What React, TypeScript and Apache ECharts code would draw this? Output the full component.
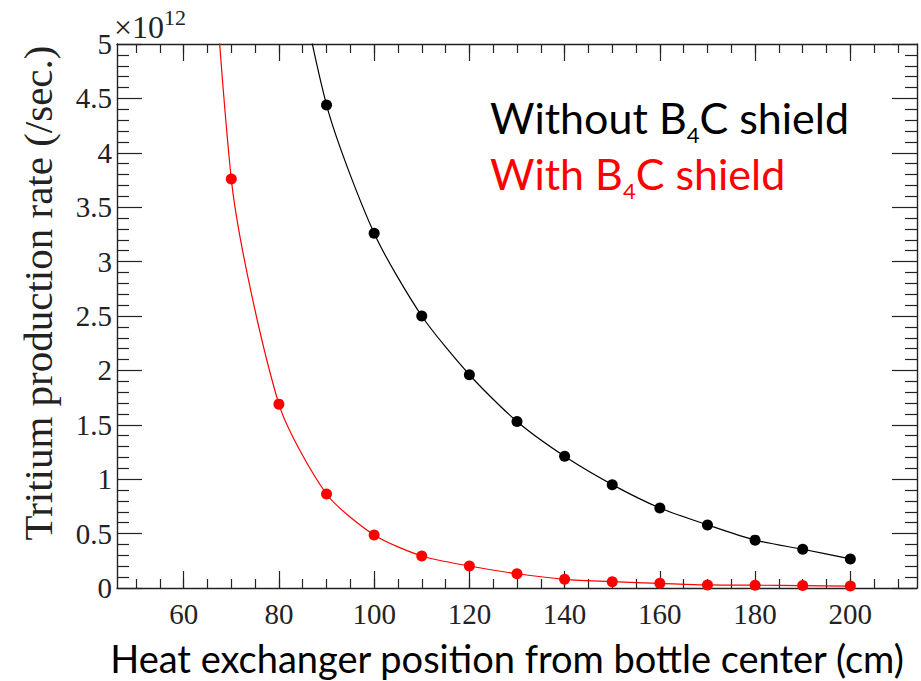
import React, { useEffect, useRef } from "react";
import * as echarts from "echarts";

// Heat exchanger position (cm)
const positions = [60, 70, 80, 90, 100, 110, 120, 130, 140, 150, 160, 170, 180, 190, 200];
// Tritium production rate (x10^12 /sec.)
const withoutShield = [15.0, 9.6, 6.6, 4.44, 3.26, 2.5, 1.96, 1.53, 1.21, 0.95, 0.735, 0.58, 0.44, 0.356, 0.267];
const withShield = [10.1, 3.76, 1.69, 0.864, 0.487, 0.294, 0.202, 0.131, 0.08, 0.058, 0.043, 0.028, 0.026, 0.022, 0.018];

const xMajorTicks = [60, 80, 100, 120, 140, 160, 180, 200];
const xMinorTicks = [50, 55, 60, 65, 70, 75, 80, 85, 90, 95, 100, 105, 110, 115, 120, 125, 130, 135, 140, 145, 150, 155, 160, 165, 170, 175, 180, 185, 190, 195, 200, 205, 210];

const X_MIN = 46;
const X_MAX = 214;
const Y_MIN = 0;
const Y_MAX = 5;

const SANS = "Lato";
const SERIF = "Liberation Serif";

function measure(text: string, size: number, family: string): number {
  const ctx = document.createElement("canvas").getContext("2d");
  if (!ctx) return text.length * size * 0.5;
  ctx.font = `${size}px "${family}"`;
  return ctx.measureText(text).width;
}

function subscriptLabel(parts: [string, string, string], x: number, midY: number, color: string, fs: number, subFs: number) {
  const w1 = measure(parts[0], fs, SANS);
  const w2 = measure(parts[1], subFs, SANS);
  const main = { fill: color, fontSize: fs, lineHeight: fs, fontFamily: SANS, verticalAlign: "middle", align: "left" };
  return [
    { type: "text", x, y: midY, style: { ...main, text: parts[0] } },
    { type: "text", x: x + w1, y: midY + 17, style: { text: parts[1], fill: color, fontSize: subFs, lineHeight: subFs - 4, fontFamily: SANS, verticalAlign: "middle", align: "left" } },
    { type: "text", x: x + w1 + w2, y: midY, style: { ...main, text: parts[2] } },
  ];
}

export default function App() {
  const ref = useRef<HTMLDivElement>(null);
  useEffect(() => {
    if (!ref.current) return;
    const chart = echarts.init(ref.current, undefined, { renderer: "svg" });
    const frameColor = "#222";
    const labelStyle = { fontFamily: SERIF, fontSize: 29, color: "#222" };
    const hidden = { show: false };
    const xAxisBase = {
      type: "value",
      min: X_MIN,
      max: X_MAX,
      gridIndex: 0,
      splitLine: hidden,
    };
    const exp10Width = measure("×10", 32, SERIF);
    const option = {
      animation: false,
      backgroundColor: "#fff",
      textStyle: { fontFamily: SERIF },
      grid: { left: 117, top: 44, width: 800, height: 544, containLabel: false },
      xAxis: [
        {
          ...xAxisBase,
          position: "bottom",
          axisLine: { show: true, onZero: false, lineStyle: { color: frameColor, width: 1.4 } },
          axisTick: { show: true, inside: true, length: 17, customValues: xMajorTicks, lineStyle: { color: frameColor, width: 1.2 } },
          axisLabel: { show: true, customValues: xMajorTicks, margin: 11, ...labelStyle },
        },
        {
          ...xAxisBase,
          position: "bottom",
          axisLine: { show: false, onZero: false },
          axisTick: { show: true, inside: true, length: 9, customValues: xMinorTicks, lineStyle: { color: frameColor, width: 1.2 } },
          axisLabel: hidden,
        },
        {
          ...xAxisBase,
          position: "top",
          axisLine: { show: true, onZero: false, lineStyle: { color: frameColor, width: 1.4 } },
          axisTick: { show: true, inside: true, length: 17, customValues: xMajorTicks, lineStyle: { color: frameColor, width: 1.2 } },
          axisLabel: hidden,
        },
        {
          ...xAxisBase,
          position: "top",
          axisLine: { show: false, onZero: false },
          axisTick: { show: true, inside: true, length: 9, customValues: xMinorTicks, lineStyle: { color: frameColor, width: 1.2 } },
          axisLabel: hidden,
        },
      ],
      yAxis: [
        {
          type: "value",
          min: Y_MIN,
          max: Y_MAX,
          interval: 0.5,
          position: "left",
          splitLine: hidden,
          axisLine: { show: true, onZero: false, lineStyle: { color: frameColor, width: 1.4 } },
          axisTick: { show: true, inside: true, length: 25, lineStyle: { color: frameColor, width: 1.2 } },
          minorTick: { show: true, splitNumber: 5, length: 12, lineStyle: { color: frameColor, width: 1.2 } },
          axisLabel: { show: true, margin: 5, showMaxLabel: true, showMinLabel: true, ...labelStyle },
        },
        {
          type: "value",
          min: Y_MIN,
          max: Y_MAX,
          interval: 0.5,
          position: "right",
          splitLine: hidden,
          axisLine: { show: true, onZero: false, lineStyle: { color: frameColor, width: 1.4 } },
          axisTick: { show: true, inside: true, length: 25, lineStyle: { color: frameColor, width: 1.2 } },
          minorTick: { show: true, splitNumber: 5, length: 12, lineStyle: { color: frameColor, width: 1.2 } },
          axisLabel: hidden,
        },
      ],
      series: [
        {
          name: "Without B4C shield",
          type: "line",
          xAxisIndex: 0,
          yAxisIndex: 0,
          data: positions.map((x, i) => [x, withoutShield[i]]),
          smooth: 0.25,
          symbol: "circle",
          symbolSize: 11,
          clip: true,
          itemStyle: { color: "#000" },
          lineStyle: { color: "#000", width: 1.2 },
        },
        {
          name: "With B4C shield",
          type: "line",
          xAxisIndex: 0,
          yAxisIndex: 0,
          data: positions.map((x, i) => [x, withShield[i]]),
          smooth: 0.25,
          symbol: "circle",
          symbolSize: 11,
          clip: true,
          itemStyle: { color: "#ff0000" },
          lineStyle: { color: "#ff0000", width: 1.2 },
        },
      ],
      graphic: [
        {
          type: "text",
          x: 114,
          y: 27,
          style: { text: "×10", fontFamily: SERIF, fontSize: 32, fill: "#222", verticalAlign: "middle", align: "left" },
        },
        {
          type: "text",
          x: 114 + exp10Width,
          y: 17,
          style: { text: "12", fontFamily: SERIF, fontSize: 22, fill: "#222", verticalAlign: "middle", align: "left" },
        },
        {
          type: "text",
          x: 38,
          y: 293,
          rotation: Math.PI / 2,
          style: { text: "Tritium production rate (/sec.)", fontFamily: SERIF, fontSize: 41, fill: "#222", align: "center", verticalAlign: "middle" },
        },
        {
          type: "text",
          x: 507,
          y: 658,
          style: { text: "Heat exchanger position from bottle center (cm)", fontFamily: SANS, fontSize: 38, fill: "#000", align: "center", verticalAlign: "middle" },
        },
        ...subscriptLabel(["Without B", "4", "C shield"], 490, 117, "#000", 43, 22),
        ...subscriptLabel(["With B", "4", "C shield"], 490, 173, "#ff0000", 43, 22),
      ],
    };
    chart.setOption(option as any);
    return () => chart.dispose();
  }, []);
  return <div ref={ref} style={{ width: 921, height: 681, position: "absolute", left: 0, top: 0 }} />;
}
